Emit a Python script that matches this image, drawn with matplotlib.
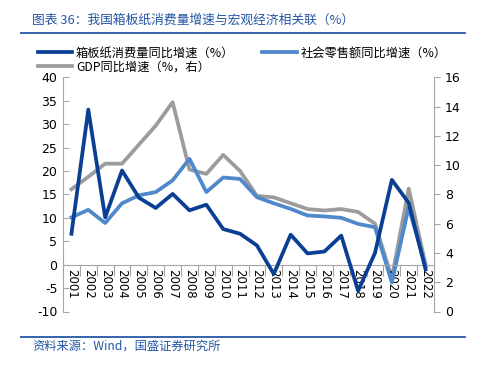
import matplotlib.pyplot as plt
from matplotlib.lines import Line2D
import numpy as np

plt.rcParams['font.family'] = ['DejaVu Sans', 'Noto Sans CJK SC']
plt.rcParams['axes.unicode_minus'] = False

years = [str(y) for y in range(2001, 2023)]
# 箱板纸消费量同比增速 (左轴)
paper = [6.6, 33.1, 10.1, 20.1, 14.3, 12.1, 15.1, 11.6, 12.8, 7.6, 6.6,
         4.1, -2.0, 6.4, 2.4, 2.8, 6.2, -5.6, 2.5, 18.1, 13.2, -1.0]
# 社会零售额同比增速 (左轴)
retail = [10.1, 11.7, 8.9, 13.1, 14.8, 15.5, 18.0, 22.6, 15.5, 18.6, 18.3,
          14.4, 13.1, 11.9, 10.5, 10.3, 10.0, 8.7, 8.0, -3.8, 12.3, -0.4]
# GDP同比增速 (右轴)
gdp = [8.35, 9.2, 10.1, 10.1, 11.4, 12.7, 14.3, 9.7, 9.4, 10.7, 9.6,
       7.9, 7.8, 7.4, 7.0, 6.9, 7.0, 6.8, 6.0, 2.3, 8.4, 3.2]

c_dark = '#0a3f94'
c_light = '#4f88cc'
c_gray = '#9c9c9c'
c_axis = '#a6a6a6'
c_title = '#2456a4'
cjk = ['Noto Sans CJK SC', 'DejaVu Sans']

fig = plt.figure(figsize=(4.79, 3.68), dpi=100)
ax = fig.add_axes([63 / 479, 1 - 311.5 / 368, (434 - 63) / 479, (311.5 - 77.3) / 368])
ax2 = ax.twinx()

x = np.arange(len(years))
ax.plot(x, paper, color=c_dark, lw=2.7, zorder=3)
ax.plot(x, retail, color=c_light, lw=2.7, zorder=2)
ax2.plot(x, gdp, color=c_gray, lw=2.7)
ax.set_zorder(ax2.get_zorder() + 1)
ax.patch.set_visible(False)

ax.set_xlim(-0.5, len(years) - 0.5)
ax.set_ylim(-10, 40)
ax.set_yticks(range(-10, 41, 5))
ax2.set_ylim(0, 16)
ax2.set_yticks(range(0, 17, 2))

for s in ['top', 'right']:
    ax.spines[s].set_visible(False)
    ax2.spines[s].set_visible(s == 'right')
ax2.spines['left'].set_visible(False)
ax2.spines['bottom'].set_visible(False)
ax.spines['bottom'].set_position(('data', 0))
ax.spines['bottom'].set_color(c_axis)
ax.spines['left'].set_color(c_axis)
ax2.spines['right'].set_color(c_axis)

ax.set_xticks(np.arange(-0.5, len(years), 1))
ax.set_xticklabels([])
ax.set_xticks(x, minor=True)
ax.set_xticklabels(years, minor=True, rotation=270, fontsize=8.5)
ax.tick_params(axis='x', which='major', direction='out', length=8, color=c_axis)
ax.tick_params(axis='x', which='minor', length=0, pad=3)
ax.tick_params(axis='y', direction='in', length=4, color=c_axis, labelsize=9, pad=4)
ax2.tick_params(axis='y', direction='out', length=4, color=c_axis, labelsize=9, pad=4)

handles = [Line2D([], [], color=c_dark, lw=2.7),
           Line2D([], [], color=c_gray, lw=2.7),
           Line2D([], [], color=c_light, lw=2.7)]
labels = ['箱板纸消费量同比增速（%）', 'GDP同比增速（%，右）', '社会零售额同比增速（%）']
fig.legend(handles, labels, loc='upper left', bbox_to_anchor=(38 / 479, 1 - 46.5 / 368),
           ncol=2, frameon=False, borderpad=0, borderaxespad=0, handlelength=2.8,
           handletextpad=0.3, columnspacing=2.3, labelspacing=0.05,
           prop={'family': cjk, 'size': 8.8})

fig.text(32 / 479, 1 - 20 / 368, '图表 36：我国箱板纸消费量增速与宏观经济相关联（%）',
         color=c_title, fontsize=9.2, va='center', family=cjk)
fig.add_artist(Line2D([21 / 479, 465 / 479], [1 - 33 / 368] * 2, color=c_title, lw=1.3))
fig.add_artist(Line2D([21 / 479, 465 / 479], [1 - 337 / 368] * 2, color=c_title, lw=1.3))
fig.text(32 / 479, 1 - 346 / 368, '资料来源：Wind，国盛证券研究所',
         color=c_title, fontsize=8.8, va='center', family=cjk)

fig.savefig('out.png', dpi=100)
